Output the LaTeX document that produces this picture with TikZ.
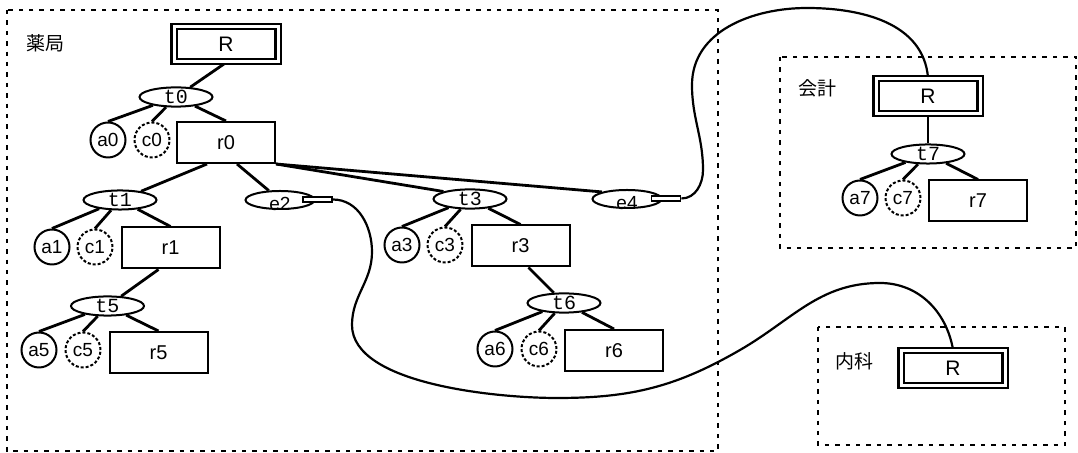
\documentclass[tikz,border=0pt]{standalone}
\usepackage{fontspec}
\setmainfont{Liberation Sans}
\setmonofont{Liberation Mono}
\newfontfamily\jpfont{Noto Sans CJK JP}
\usetikzlibrary{shapes.geometric,backgrounds}

% label of an external node sits low in its ellipse
\newcommand{\lowlabel}[1]{\smash{\raisebox{-5.5pt}{#1}}}

\begin{document}
\begin{tikzpicture}[
    x=0.5pt, y=0.5pt,
    font=\fontsize{9.5}{11}\selectfont,
    relbox/.style={
        draw,
        fill=white,
        double,
        double distance=1.5pt,
        line width=1.1pt,
        minimum width=52pt,
        minimum height=17.5pt,
        inner sep=0pt,
        font=\fontsize{10.5}{12}\selectfont
    },
    tupnode/.style={
        draw,
        fill=white,
        ellipse,
        line width=1pt,
        minimum width=36.5pt,
        minimum height=9pt,
        inner sep=0pt,
        font=\fontsize{10}{11}\ttfamily
    },
    extnode/.style={
        tupnode,
        minimum width=34.5pt,
        font=\fontsize{9.5}{11}\selectfont
    },
    portbox/.style={
        draw,
        fill=white,
        line width=0.9pt,
        minimum width=14.5pt,
        minimum height=2.5pt,
        inner sep=0pt
    },
    attrnode/.style={
        draw,
        fill=white,
        circle,
        line width=1pt,
        minimum size=17.5pt,
        inner sep=0pt
    },
    cattrnode/.style={
        attrnode,
        dash pattern=on 1.5pt off 1pt
    },
    recbox/.style={
        draw,
        fill=white,
        line width=1pt,
        minimum width=49pt,
        minimum height=20.5pt,
        inner sep=0pt,
        font=\fontsize{10}{12}\selectfont
    },
    branch/.style={line width=1.4pt},
    wire/.style={line width=1.1pt},
    deptframe/.style={
        draw,
        line width=1pt,
        dash pattern=on 2.2pt off 3pt
    },
    deptlabel/.style={font=\jpfont\fontsize{9.5}{11}\selectfont}
]
\useasboundingbox (0,0) rectangle (1078,-453);

% Departments
\draw[deptframe] (7,-10) rectangle (718,-451);
\draw[deptframe] (780,-57) rectangle (1076,-248);
\draw[deptframe] (818,-327) rectangle (1065,-445);
\node[deptlabel] (lyak) at (45,-43) {薬局};
\node[deptlabel] (lkai) at (817,-88) {会計};
\node[deptlabel] (lnai) at (854,-361) {内科};

% 薬局 tree
\node[relbox] (Ryak) at (226,-44) {R};
\node[tupnode] (t0) at (176,-97) {t0};
\node[attrnode] (a0) at (108,-140) {a0};
\node[cattrnode] (c0) at (152,-140) {c0};
\node[recbox] (r0) at (226,-142.5) {r0};

\node[tupnode] (t1) at (120,-200) {t1};
\node[attrnode] (a1) at (52,-247) {a1};
\node[cattrnode] (c1) at (95,-247) {c1};
\node[recbox] (r1) at (170.5,-248) {r1};

\node[tupnode] (t5) at (107.5,-306) {t5};
\node[attrnode] (a5) at (39,-350) {a5};
\node[cattrnode] (c5) at (83,-350) {c5};
\node[recbox] (r5) at (158.5,-352.5) {r5};

\node[tupnode] (t3) at (470,-199) {t3};
\node[attrnode] (a3) at (402,-245) {a3};
\node[cattrnode] (c3) at (445,-245) {c3};
\node[recbox] (r3) at (520.5,-246) {r3};

\node[tupnode] (t6) at (564,-303) {t6};
\node[attrnode] (a6) at (495,-349) {a6};
\node[cattrnode] (c6) at (539,-349) {c6};
\node[recbox] (r6) at (614,-350.5) {r6};

% external references
\node[extnode] (e2) at (280,-200) {\lowlabel{e2}};
\node[portbox] (e2p) at (317.5,-199.5) {};
\node[extnode] (e4) at (627,-199) {\lowlabel{e4}};
\node[portbox] (e4p) at (666,-198.5) {};

% 会計 tree
\node[relbox] (Rkai) at (928,-96) {R};
\node[tupnode] (t7) at (928,-154) {t7};
\node[attrnode] (a7) at (860,-198) {a7};
\node[cattrnode] (c7) at (903,-198) {c7};
\node[recbox] (r7) at (978,-201) {r7};

% 内科
\node[relbox] (Rnai) at (953,-368) {R};

\begin{scope}[on background layer]
% Branches
\draw[branch] (Ryak.south) -- (t0);
\draw[branch] (t0) -- (a0.north);
\draw[branch] (t0) -- (c0.north);
\draw[branch] (t0) -- (r0.north);
\draw[branch] ([xshift=-9.5pt]r0.south) -- (t1);
\draw[branch] ([xshift=5.5pt]r0.south) -- (e2);
\draw[branch] (r0.south east) -- (t3.north west);
\draw[branch] (r0.south east) -- (e4.north west);
\draw[branch] (t1) -- (a1.north);
\draw[branch] (t1) -- (c1.north);
\draw[branch] (t1) -- (r1.north);
\draw[branch] ([xshift=-6pt]r1.south) -- (t5);
\draw[branch] (t5) -- (a5.north);
\draw[branch] (t5) -- (c5.north);
\draw[branch] (t5) -- (r5.north);
\draw[branch] (t3) -- (a3.north);
\draw[branch] (t3) -- (c3.north);
\draw[branch] (t3) -- (r3.north);
\draw[branch] ([xshift=4pt]r3.south) -- (t6);
\draw[branch] (t6) -- (a6.north);
\draw[branch] (t6) -- (c6.north);
\draw[branch] (t6) -- (r6.north);
\draw[branch] (Rkai.south) -- (t7);
\draw[branch] (t7) -- (a7.north);
\draw[branch] (t7) -- (c7.north);
\draw[branch] (t7) -- (r7.north);

% Links to other departments
\draw[wire] (e4p.east) to[out=0,in=-90] (703,-170) to[out=90,in=-90] (692,-85)
    to[out=90,in=180] (807,-8) to[out=0,in=95] (Rkai.north);
\draw[wire] (e2p.east) to[out=0,in=90] (372,-252) to[out=-90,in=90] (352,-325)
    to[out=-90,in=180,looseness=0.7] (557,-398) to[out=0,in=-150] (740,-350)
    to[out=30,in=180] (880,-283) to[out=0,in=100] (Rnai.north);
\end{scope}

\end{tikzpicture}
\end{document}
